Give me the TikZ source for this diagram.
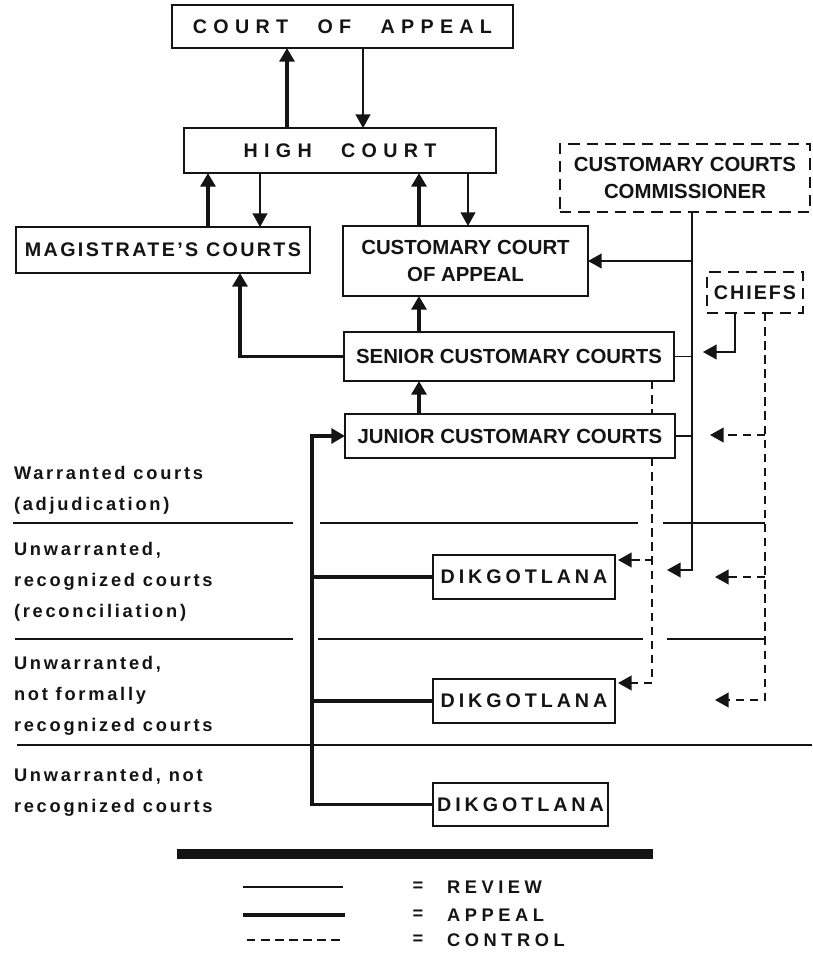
\documentclass[tikz,border=0pt]{standalone}
\usepackage{fontspec}
\setmainfont{Liberation Sans}
\newfontfamily\ctwidefont{Liberation Sans}[LetterSpace=32,WordSpace=2.5]
\usetikzlibrary{arrows.meta,calc}

\definecolor{ctink}{RGB}{20,20,20}

\begin{document}
\begin{tikzpicture}[
  x=0.025cm,
  y=-0.025cm,
  >={Triangle[length=0.34cm,width=0.37cm]},
  every node/.style={inner sep=0pt, outer sep=0pt},
  ctBox/.style={draw=ctink, fill=white, line width=1.2pt, text=ctink, align=center,
    font={\bfseries\fontsize{14.5}{19.5}\selectfont}},
  ctDash/.style={ctBox, dash pattern=on 8pt off 5pt},
  ctTrack/.style={font={\bfseries\fontsize{14}{19}\selectfont\addfontfeatures{LetterSpace=#1}}},
  ctWide/.style={font={\ctwidefont\bfseries\fontsize{14}{19}\selectfont}},
  ctSide/.style={anchor=west, align=left, text=ctink,
    font={\bfseries\fontsize{13}{22}\selectfont\addfontfeatures{LetterSpace=15}}},
  ctKey/.style={text=ctink, font={\bfseries\fontsize{13}{15}\selectfont\addfontfeatures{LetterSpace=25}}},
  ctReview/.style={draw=ctink, line width=1.1pt},
  ctAppeal/.style={draw=ctink, line width=2.8pt},
  ctControl/.style={draw=ctink, line width=1.1pt, dash pattern=on 6pt off 4pt},
  ctRule/.style={draw=ctink, line width=1.1pt}
]

  \path[use as bounding box] (0,0) rectangle (812,953);

  % courts
  \node[ctBox, ctWide, minimum width=8.525cm, minimum height=1.075cm] (coa) at (342.5,26.5) {COURT OF APPEAL};
  \node[ctBox, ctWide, minimum width=7.8cm, minimum height=1.125cm] (hc) at (340,150.5) {HIGH COURT};
  \node[ctBox, ctTrack=12, minimum width=7.35cm, minimum height=1.15cm] (mag) at (163,250) {MAGISTRATE’S COURTS};
  \node[ctBox, minimum width=6.125cm, minimum height=1.75cm] (cca) at (465.5,261) {CUSTOMARY COURT\\OF APPEAL};
  \node[ctBox, minimum width=8.25cm, minimum height=1.225cm] (sen) at (509,356.5) {SENIOR CUSTOMARY COURTS};
  \node[ctBox, minimum width=8.25cm, minimum height=1.1cm] (jun) at (510,436) {JUNIOR CUSTOMARY COURTS};
  \node[ctDash, minimum width=6.25cm, minimum height=1.7cm] (comm) at (685,178) {CUSTOMARY COURTS\\COMMISSIONER};
  \node[ctDash, ctTrack=10, minimum width=2.4cm, minimum height=1.025cm] (chiefs) at (755,292.5) {CHIEFS};
  \node[ctBox, ctTrack=20, minimum width=4.55cm, minimum height=1.1cm] (dik1) at (524,577) {DIKGOTLANA};
  \node[ctBox, ctTrack=20, minimum width=4.55cm, minimum height=1.1cm] (dik2) at (524,701) {DIKGOTLANA};
  \node[ctBox, ctTrack=20, minimum width=4.375cm, minimum height=1.075cm] (dik3) at (520.5,804.5) {DIKGOTLANA};

  % appeal
  \draw[ctAppeal,->] (hc.north -| 287,0) -- (coa.south -| 287,0);
  \draw[ctAppeal,->] (mag.north -| 208,0) -- (hc.south -| 208,0);
  \draw[ctAppeal,->] (cca.north -| 419,0) -- (hc.south -| 419,0);
  \draw[ctAppeal,->] (sen.north -| 419,0) -- (cca.south -| 419,0);
  \draw[ctAppeal,->] (jun.north -| 419,0) -- (sen.south -| 419,0);
  \draw[ctAppeal,->] (sen.west) -| (mag.south -| 240,0);
  \draw[ctAppeal,->] (dik3.west) -| (jun.west -| 312,0) -- (jun.west);
  \draw[ctAppeal] (dik1.west) -- (dik1.west -| 312,0);
  \draw[ctAppeal] (dik2.west) -- (dik2.west -| 312,0);

  % review
  \draw[ctReview,->] (coa.south -| 363,0) -- (hc.north -| 363,0);
  \draw[ctReview,->] (hc.south -| 260,0) -- (mag.north -| 260,0);
  \draw[ctReview,->] (hc.south -| 468,0) -- (cca.north -| 468,0);
  \coordinate (commtip) at (667,570);
  \draw[ctReview,->] (comm.south -| 692,0) |- (commtip);
  \draw[ctReview,->] (cca.east -| 692,0) -- (cca.east);
  \draw[ctReview] (sen.east) -- (sen.east -| 692,0);
  \draw[ctReview] (jun.east) -- (jun.east -| 692,0);
  \coordinate (chftip) at (703,352);
  \draw[ctReview,->] (chiefs.south -| 735,0) |- (chftip);

  % control
  \coordinate (chfa) at (710,435);
  \coordinate (chfb) at (715,577);
  \coordinate (chfc) at (715,700);
  \draw[ctControl,->] (chiefs.south -| 765,0) |- (chfc);
  \draw[ctControl,->] (chfa -| 765,0) -- (chfa);
  \draw[ctControl,->] (chfb -| 765,0) -- (chfb);
  \draw[ctControl] (sen.south -| 652,0) -- (jun.north -| 652,0);
  \draw[ctControl,->] (jun.south -| 652,0) |- ($(dik2.north east)+(3,4)$);
  \draw[ctControl,<-] ($(dik1.north east)+(3,5)$) -- ++(34,0);

  % levels
  \draw[ctRule] (13,523) -- (293,523) (320,523) -- (638,523) (663,523) -- (765,523);
  \draw[ctRule] (15,639) -- (293,639) (318,639) -- (643,639) (667,639) -- (765,639);
  \draw[ctRule] (17,745) -- (812,745);

  \node[ctSide] (lvla) at (14,490) {Warranted courts\\(adjudication)};
  \node[ctSide] (lvlb) at (14,582) {Unwarranted,\\recognized courts\\(reconciliation)};
  \node[ctSide] (lvlc) at (14,695.5) {Unwarranted,\\not formally\\recognized courts};
  \node[ctSide] (lvld) at (14,792) {Unwarranted, not\\recognized courts};

  % key
  \draw[ctink, line width=0.25cm] (177,854) -- (653,854);
  \draw[ctReview] (243,887) -- (343,887);
  \draw[ctAppeal] (243,915) -- (345,915);
  \draw[ctControl] (247,940) -- (343,940);
  \node[ctKey] (eqrev) at (418,887) {=};
  \node[ctKey] (eqapp) at (418,915) {=};
  \node[ctKey] (eqctl) at (418,940) {=};
  \node[ctKey, anchor=west] (keyrev) at (447,887) {REVIEW};
  \node[ctKey, anchor=west] (keyapp) at (447,915) {APPEAL};
  \node[ctKey, anchor=west] (keyctl) at (447,940) {CONTROL};

\end{tikzpicture}
\end{document}
